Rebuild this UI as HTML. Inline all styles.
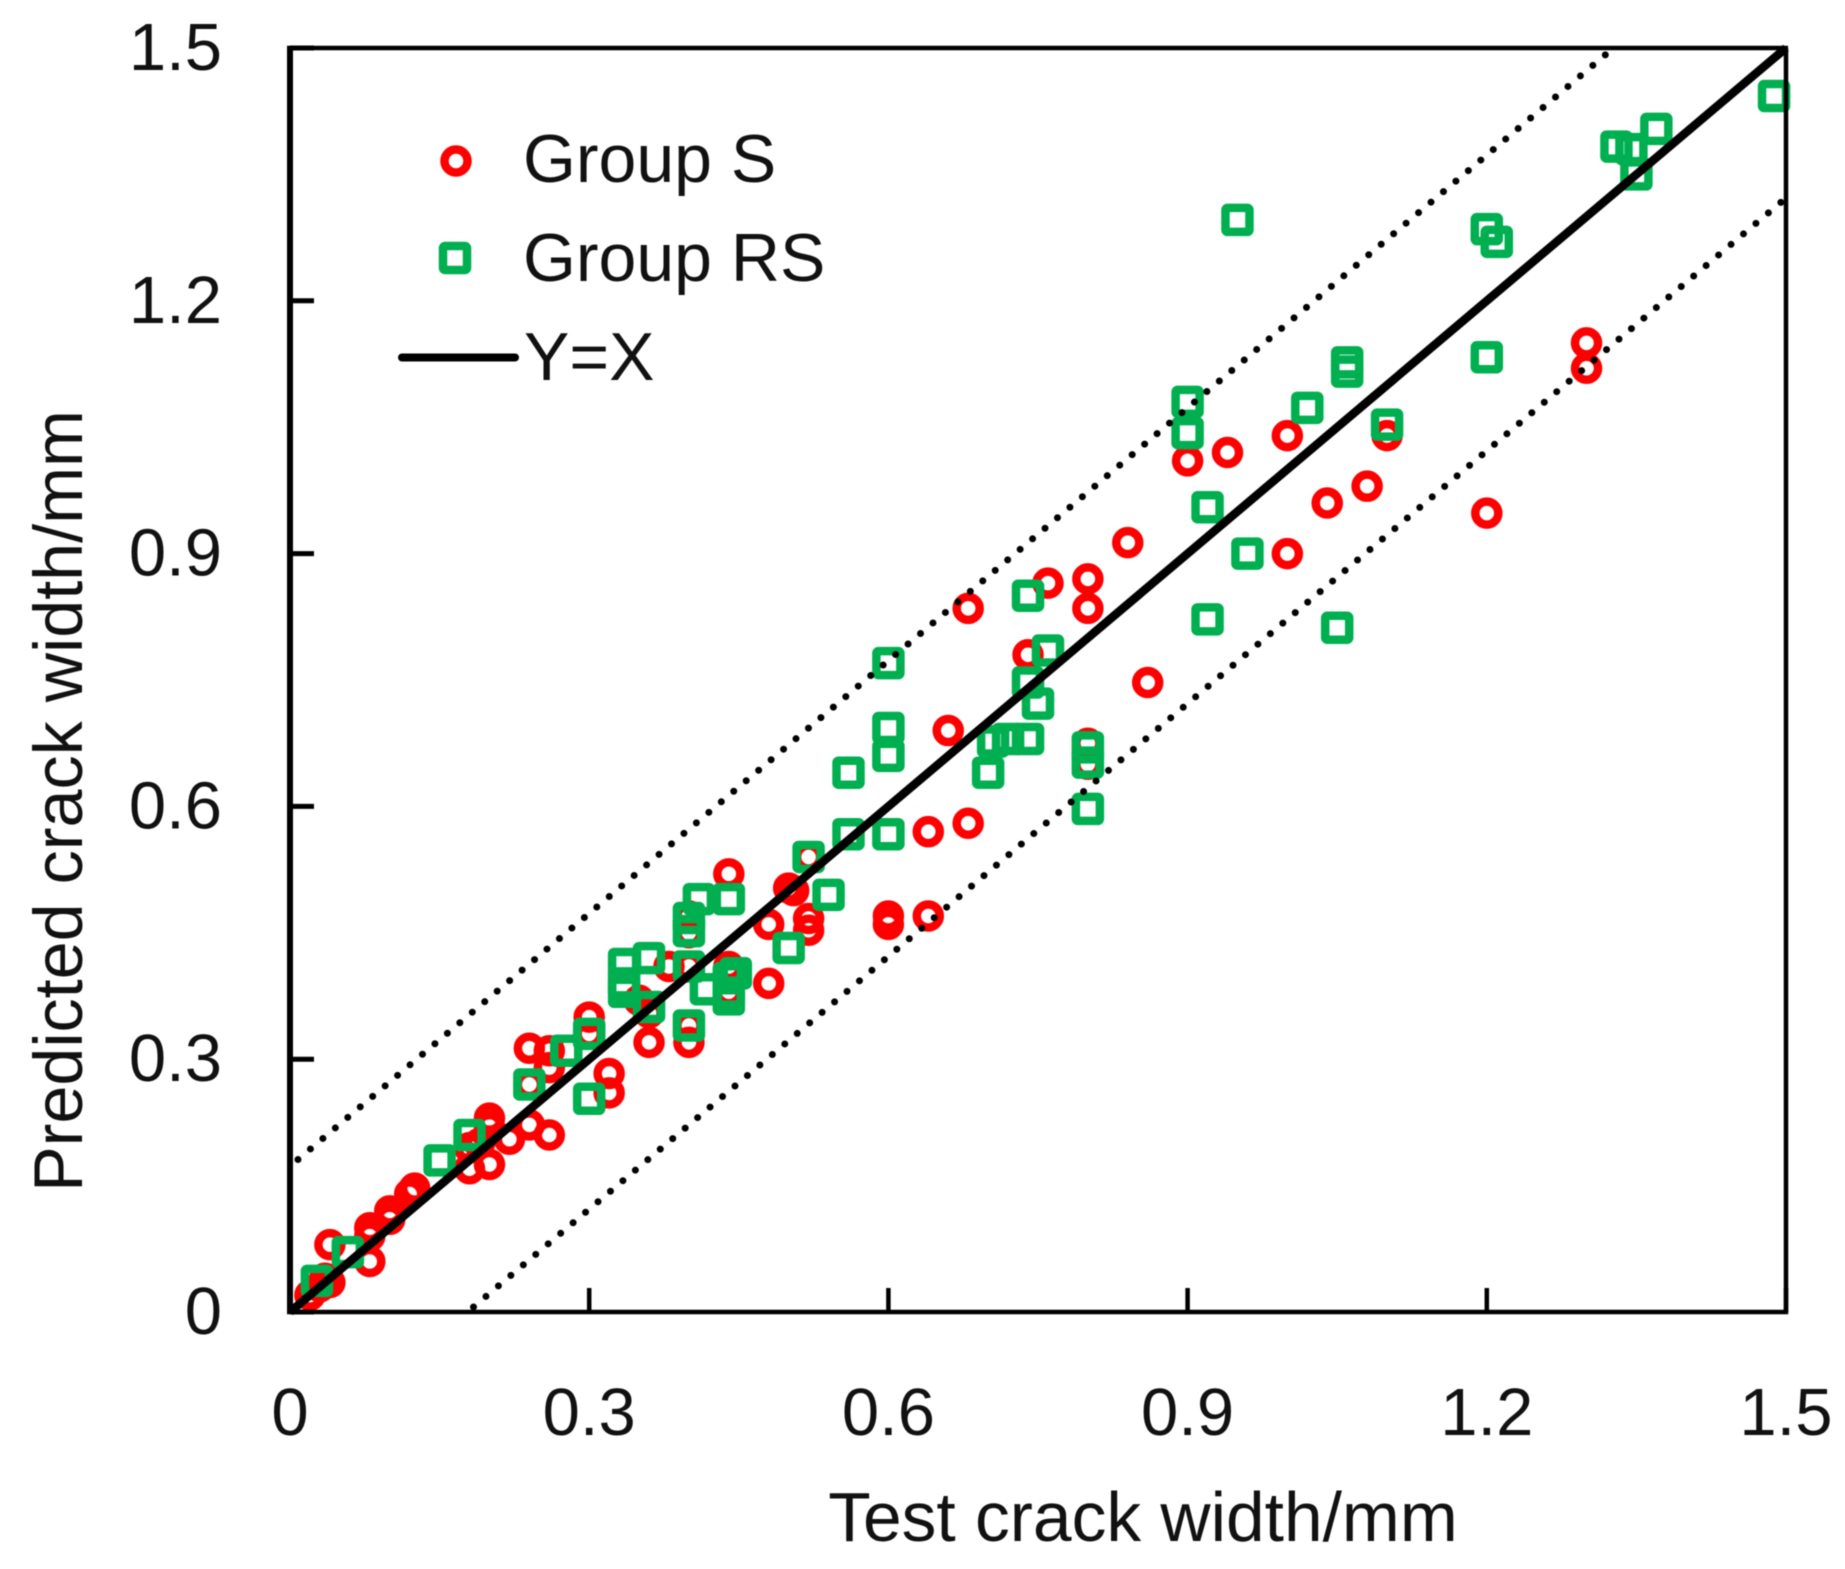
<!DOCTYPE html>
<html lang="en">
<head>
<meta charset="utf-8">
<title>Predicted vs test crack width</title>
<style>
html,body{margin:0;padding:0;background:#fff;}
#chart{display:block;width:1845px;height:1569px;filter:blur(0.6px);}
text{font-family:"Liberation Sans",Arial,sans-serif;fill:#111;}
</style>
</head>
<body>
<svg id="chart" xmlns="http://www.w3.org/2000/svg" width="1845" height="1569" viewBox="0 0 1845 1569">
  <rect x="0" y="0" width="1845" height="1569" fill="#fff"/>
  <g id="series-s"></g>
  <g id="series-rs"></g>
  <g id="ref-lines"></g>
  <g id="axes"></g>
  <text x="1143" y="1541" font-size="69.5" text-anchor="middle">Test crack width/mm</text>
  <text transform="translate(82,801) rotate(-90)" font-size="68.3" text-anchor="middle">Predicted crack width/mm</text>
  <g>
    <circle cx="456" cy="161" r="11.5" fill="none" stroke="#ff0000" stroke-width="8.500"/>
    <text x="523" y="182" font-size="68">Group S</text>
    <rect x="443" y="246" width="24" height="24" rx="2" fill="none" stroke="#00b050" stroke-width="8.500"/>
    <text x="523" y="281" font-size="68">Group RS</text>
    <line x1="402" y1="357.500" x2="515" y2="357.500" stroke="#000" stroke-width="8" stroke-linecap="round"/>
    <text x="524" y="380" font-size="68">Y=X</text>
  </g>
</svg>
<script>
const xTicks = [0, 0.3, 0.6, 0.9, 1.2, 1.5];
const yTicks = [0, 0.3, 0.6, 0.9, 1.2, 1.5];
const xTickLabels = ["0", "0.3", "0.6", "0.9", "1.2", "1.5"];
const yTickLabels = ["0", "0.3", "0.6", "0.9", "1.2", "1.5"];
const axisMin = 0;
const axisMax = 1.5;
const upperBand = 0.173;
const lowerBand = 0.178;

const groupSTest = [1.30,1.30,1.20,1.10,1.08,1.04,1.00,1.00,0.94,0.90,0.84,0.80,0.80,0.76,0.74,0.68,0.66,0.86,0.80,0.80,0.68,0.64,0.64,0.60,0.60,0.52,0.52,0.48,0.50,0.505,0.44,0.52,0.48,0.44,0.44,0.40,0.40,0.40,0.40,0.40,0.38,0.36,0.36,0.35,0.30,0.30,0.32,0.32,0.24,0.26,0.26,0.24,0.24,0.26,0.22,0.20,0.20,0.20,0.18,0.18,0.19,0.12,0.125,0.10,0.10,0.08,0.08,0.08,0.04,0.04,0.035,0.02,0.03];
const groupSPred = [1.15,1.12,0.948,1.04,0.98,0.96,1.04,0.90,1.02,1.01,0.913,0.87,0.835,0.865,0.78,0.835,0.69,0.747,0.675,0.65,0.58,0.57,0.47,0.47,0.46,0.467,0.453,0.46,0.503,0.50,0.52,0.54,0.39,0.41,0.38,0.32,0.34,0.47,0.45,0.41,0.41,0.32,0.355,0.37,0.35,0.33,0.283,0.26,0.313,0.31,0.29,0.27,0.222,0.21,0.205,0.23,0.22,0.175,0.17,0.195,0.20,0.14,0.147,0.12,0.11,0.10,0.09,0.06,0.08,0.035,0.04,0.02,0.03];

const groupRSTest = [1.488,1.37,1.33,1.345,1.35,0.95,1.20,1.21,1.20,1.06,1.06,1.02,0.90,0.90,1.10,0.92,0.96,0.92,1.05,0.74,0.76,0.74,0.75,0.60,0.60,0.60,0.74,0.72,0.705,0.70,0.80,0.80,0.80,0.56,0.56,0.60,0.52,0.54,0.50,0.41,0.44,0.40,0.40,0.335,0.36,0.335,0.335,0.40,0.417,0.36,0.40,0.447,0.44,0.44,0.44,0.30,0.277,0.24,0.30,0.18,0.15,0.058,0.027];
const groupRSPred = [1.443,1.404,1.383,1.38,1.35,1.296,1.285,1.27,1.133,1.127,1.116,1.073,1.08,1.043,1.053,0.955,0.90,0.822,0.812,0.85,0.785,0.747,0.722,0.77,0.693,0.66,0.68,0.68,0.677,0.64,0.67,0.652,0.597,0.64,0.567,0.567,0.54,0.495,0.432,0.49,0.49,0.4675,0.452,0.413,0.42,0.38,0.39,0.41,0.383,0.362,0.34,0.402,0.396,0.379,0.371,0.33,0.31,0.27,0.253,0.21,0.18,0.071,0.037];

const SVG_NS = "http://www.w3.org/2000/svg";
const X0 = 290, X1 = 1786, Y0 = 1312, Y1 = 48;
function xScale(v){ return X0 + (v - axisMin) / (axisMax - axisMin) * (X1 - X0); }
function yScale(v){ return Y0 - (v - axisMin) / (axisMax - axisMin) * (Y0 - Y1); }
function make(tag, attrs, parent){
  const el = document.createElementNS(SVG_NS, tag);
  for (const k in attrs) el.setAttribute(k, attrs[k]);
  parent.appendChild(el);
  return el;
}

const gS = document.getElementById("series-s");
groupSTest.forEach(function(xv, i){
  const c = make("circle", {cx: xScale(xv), cy: yScale(groupSPred[i]), r: 11.5, fill: "none", stroke: "#ff0000", "stroke-width": 8.5}, gS);
  
  
});

const gRS = document.getElementById("series-rs");
groupRSTest.forEach(function(xv, i){
  const r = make("rect", {x: xScale(xv) - 12, y: yScale(groupRSPred[i]) - 12, width: 24, height: 24, rx: 2, fill: "none", stroke: "#00b050", "stroke-width": 8.5}, gRS);
  
  
});

const gRef = document.getElementById("ref-lines");
const upper = make("line", {x1: xScale(0.008), y1: yScale(0.008 + upperBand), x2: xScale(axisMax - upperBand), y2: yScale(axisMax), stroke: "#000", "stroke-width": 7, "stroke-linecap": "round", "stroke-dasharray": "0 16.3"}, gRef);


const lower = make("line", {x1: xScale(lowerBand + 0.006), y1: yScale(0.006), x2: xScale(axisMax), y2: yScale(axisMax - lowerBand), stroke: "#000", "stroke-width": 7, "stroke-linecap": "round", "stroke-dasharray": "0 16.3"}, gRef);


const ideal = make("line", {x1: xScale(0), y1: yScale(0), x2: xScale(axisMax), y2: yScale(axisMax), stroke: "#000", "stroke-width": 8.5}, gRef);



const gAxes = document.getElementById("axes");
const frameTop = make("line", {x1: X0 - 3, y1: Y1, x2: X1 + 2, y2: Y1, stroke: "#000", "stroke-width": 4.5}, gAxes);


const frameRight = make("line", {x1: X1, y1: Y1, x2: X1, y2: Y0 + 2, stroke: "#000", "stroke-width": 4.5}, gAxes);


const axisX = make("line", {x1: X0 - 3, y1: Y0, x2: X1 + 2, y2: Y0, stroke: "#000", "stroke-width": 4.5}, gAxes);


const axisY = make("line", {x1: X0, y1: Y1 - 2, x2: X0, y2: Y0 + 2, stroke: "#000", "stroke-width": 6}, gAxes);



xTicks.forEach(function(v, i){
  const t = make("line", {x1: xScale(v), y1: Y0, x2: xScale(v), y2: Y0 - 24, stroke: "#000", "stroke-width": 4.5}, gAxes);
  
  
  const l = make("text", {x: xScale(v), y: 1435, "font-size": 67, "text-anchor": "middle"}, gAxes);
  l.textContent = xTickLabels[i];
  
  
});
yTicks.forEach(function(v, i){
  const t = make("line", {x1: X0, y1: yScale(v), x2: X0 + 24, y2: yScale(v), stroke: "#000", "stroke-width": 5}, gAxes);
  
  
  const l = make("text", {x: 222, y: yScale(v) + 22, "font-size": 67, "text-anchor": "end"}, gAxes);
  l.textContent = yTickLabels[i];
  
  
});
</script>
</body>
</html>
